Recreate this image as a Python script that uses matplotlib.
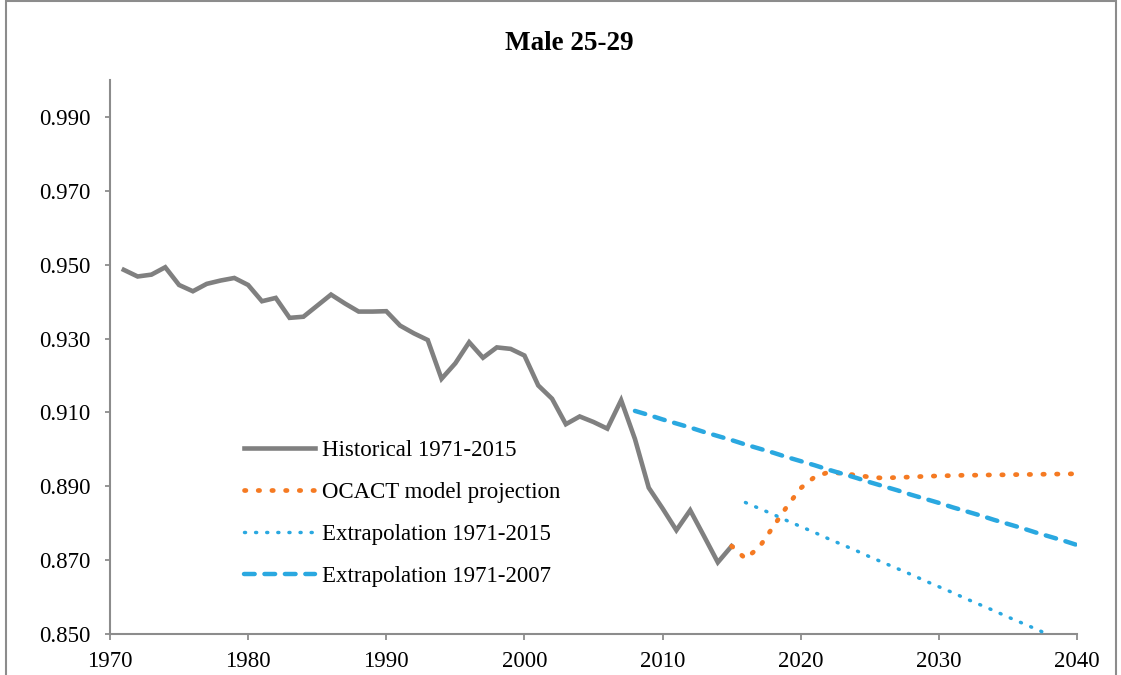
import matplotlib
matplotlib.use('Agg')
import matplotlib.pyplot as plt
from matplotlib.patches import Rectangle

plt.rcParams['font.family'] = ['Liberation Serif', 'DejaVu Serif']

# historical series, 1971-2015
hist_years = list(range(1971, 2016))
hist_values = [0.9486, 0.9468, 0.9473, 0.9493, 0.9445, 0.9428, 0.9448, 0.9457, 0.9464, 0.9445,
               0.9401, 0.9410, 0.9356, 0.9359, 0.9389, 0.9419, 0.9395, 0.9373, 0.9373, 0.9374,
               0.9335, 0.9314, 0.9296, 0.9191, 0.9233, 0.9290, 0.9248, 0.9276, 0.9272, 0.9254,
               0.9173, 0.9137, 0.9068, 0.9089, 0.9074, 0.9056, 0.9133, 0.9028, 0.8896, 0.8840,
               0.8781, 0.8835, 0.8765, 0.8694, 0.8738]

# OCACT model projection, 2015-2040
ocact_years = list(range(2015, 2041))
ocact_values = [0.8738, 0.8704, 0.8735, 0.8790, 0.8845, 0.8895, 0.8925, 0.8938, 0.8935, 0.8930,
                0.8925, 0.8922, 0.8924, 0.8925, 0.8927, 0.8928, 0.8929, 0.8930, 0.8930, 0.8931,
                0.8931, 0.8932, 0.8932, 0.8933, 0.8933, 0.8934]

# extrapolation of 1971-2015 trend
ext15_years = list(range(2016, 2041))
ext15_values = [0.8856, 0.8840, 0.8824, 0.8807, 0.8791, 0.8775, 0.8758, 0.8742, 0.8726, 0.8709,
                0.8693, 0.8677, 0.8661, 0.8644, 0.8628, 0.8612, 0.8595, 0.8579, 0.8563, 0.8546,
                0.8530, 0.8514, 0.8497, 0.8481, 0.8465]

# extrapolation of 1971-2007 trend
ext07_years = list(range(2008, 2041))
ext07_values = [0.9104, 0.9093, 0.9081, 0.9070, 0.9059, 0.9047, 0.9036, 0.9025, 0.9013, 0.9002,
                0.8991, 0.8979, 0.8968, 0.8957, 0.8945, 0.8934, 0.8923, 0.8911, 0.8900, 0.8889,
                0.8877, 0.8866, 0.8855, 0.8843, 0.8832, 0.8821, 0.8809, 0.8798, 0.8787, 0.8775,
                0.8764, 0.8753, 0.8741]

labels = ['Historical 1971-2015', 'OCACT model projection',
          'Extrapolation 1971-2015', 'Extrapolation 1971-2007']

x_ticks = [1970, 1980, 1990, 2000, 2010, 2020, 2030, 2040]
y_ticks = [0.850, 0.870, 0.890, 0.910, 0.930, 0.950, 0.970, 0.990]

fig = plt.figure(figsize=(11.21, 6.75), dpi=100)
ax = fig.add_axes([110 / 1121, 41 / 675, 967 / 1121, 554 / 675])

gray = '#808080'
orange = '#F57A22'
blue = '#2AA8E0'

ax.plot(hist_years, hist_values, color=gray, lw=3.3, solid_joinstyle='miter',
        label=labels[0], zorder=3)
ax.plot(ocact_years, ocact_values, color=orange, lw=3.4, linestyle=(0, (0.3, 2.6)),
        dash_capstyle='round', label=labels[1], zorder=4)
ax.plot(ext15_years, ext15_values, color=blue, lw=2.5, linestyle=(0, (0.3, 2.9)),
        dash_capstyle='round', label=labels[2], zorder=4)
ax.plot(ext07_years, ext07_values, color=blue, lw=3.2, linestyle=(0, (2.4, 2.2)),
        dash_capstyle='round', label=labels[3], zorder=4)

ax.set_xlim(1970, 2040)
ax.set_ylim(0.850, 1.000)
ax.set_xticks(x_ticks)
ax.set_yticks(y_ticks)
ax.set_yticklabels(['%.3f' % v for v in y_ticks])
ax.tick_params(labelsize=16.5, color='#8c8c8c', width=1.3)
ax.tick_params(axis='x', length=4.5, pad=8)
ax.tick_params(axis='y', length=3.8, pad=10.5)
for side in ['top', 'right']:
    ax.spines[side].set_visible(False)
for side in ['left', 'bottom']:
    ax.spines[side].set_color('#8c8c8c')
    ax.spines[side].set_linewidth(1.5)

fig.text(569 / 1121, 1 - 43 / 675, 'Male 25-29', ha='center', va='center',
         fontsize=19.5, fontweight='bold')

ax.legend(loc='upper left', bbox_to_anchor=(244 / 1121, 1 - 440 / 675),
          bbox_transform=fig.transFigure, frameon=False, fontsize=16.5,
          handlelength=3.1, handletextpad=0.3, labelspacing=0.92, borderpad=0,
          borderaxespad=0)

fig.patches.append(Rectangle((6 / 1121, -0.02), 1110 / 1121, 1.02 - 1 / 675,
                             transform=fig.transFigure, fill=False,
                             edgecolor='#8c8c8c', lw=1.5))

fig.savefig('out.png', dpi=100)
